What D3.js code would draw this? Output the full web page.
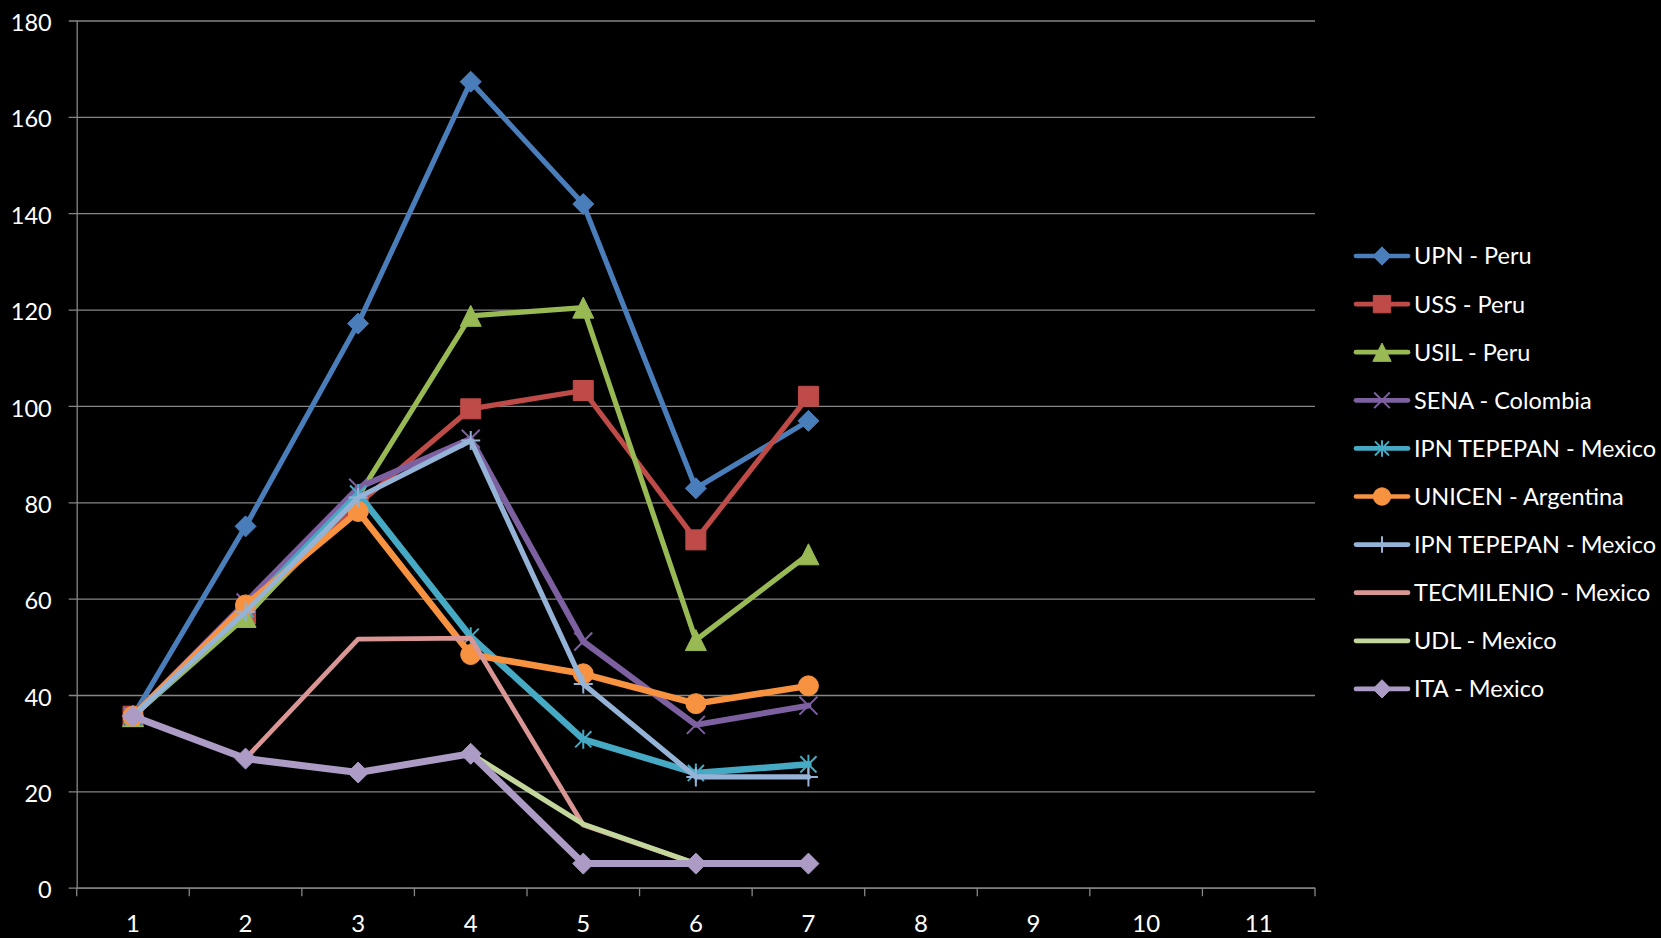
<!DOCTYPE html>
<html>
<head>
<meta charset="utf-8">
<script src="https://cdn.jsdelivr.net/npm/d3@7"></script>
<style>
  html, body { margin: 0; padding: 0; background: #000; }
  svg { display: block; }
  text { font-family: Lato, "Open Sans", sans-serif; fill: #ffffff; }
</style>
</head>
<body>
<svg id="chart" width="1661" height="938"></svg>
<script>
// Categories along the x axis
const categories = ["1", "2", "3", "4", "5", "6", "7", "8", "9", "10", "11"];
// Y axis tick values
const yTicks = [0, 20, 40, 60, 80, 100, 120, 140, 160, 180];

// Series names, in legend order
const seriesNames = [
  "UPN - Peru", "USS - Peru", "USIL - Peru", "SENA - Colombia",
  "IPN TEPEPAN - Mexico", "UNICEN - Argentina", "IPN TEPEPAN - Mexico",
  "TECMILENIO - Mexico", "UDL - Mexico", "ITA - Mexico"
];

// Series values for categories 1..7
const upnPeru        = [35.6, 75.0, 117.1, 167.3, 141.9, 82.9, 96.9];
const ussPeru        = [35.6, 56.8, 79.6, 99.4, 103.2, 72.2, 102.0];
const usilPeru       = [35.6, 56.2, 81.2, 118.7, 120.4, 51.4, 69.2];
const senaColombia   = [35.6, 59.2, 83.0, 93.2, 51.1, 33.8, 37.8];
const ipnTepepan     = [35.6, 57.8, 81.8, 52.1, 30.8, 23.8, 25.6];
const unicenArg      = [35.6, 58.7, 78.1, 48.4, 44.4, 38.2, 41.9];
const ipnTepepan2    = [35.6, 57.3, 81.0, 92.8, 42.3, 23.0, 23.0];
const tecmilenio     = [35.6, 26.8, 51.6, 51.8, 13.0, 5.0, 5.0];
const udlMexico      = [35.6, 26.8, 23.9, 27.8, 13.2, 5.0, 5.0];
const itaMexico      = [35.6, 26.8, 23.9, 27.8, 5.0, 5.0, 5.0];

const seriesValues = [upnPeru, ussPeru, usilPeru, senaColombia, ipnTepepan,
  unicenArg, ipnTepepan2, tecmilenio, udlMexico, itaMexico];

// Appearance of each series
const seriesColors = ["#4a7ebb", "#be4b48", "#98b954", "#7d60a0", "#46aac5",
  "#f69240", "#95b3d7", "#d99694", "#c3d69b", "#ab9bc5"];
const seriesMarkers = ["diamond", "square", "triangle", "x", "star",
  "circle", "plus", "none", "none", "diamond"];
const seriesWidths = [5.2, 5.2, 5.2, 6, 6.5, 6.5, 5.2, 4.8, 5.2, 7];

// Custom marker shapes (size = full width squared)
const markerTypes = {
  diamond: { draw(c, s) { const r = Math.sqrt(s) / 2; c.moveTo(0, -r); c.lineTo(r, 0); c.lineTo(0, r); c.lineTo(-r, 0); c.closePath(); } },
  square:  { draw(c, s) { const r = Math.sqrt(s) / 2; c.rect(-r, -r, 2 * r, 2 * r); } },
  triangle:{ draw(c, s) { const r = Math.sqrt(s) / 2; c.moveTo(0, -r); c.lineTo(r, r); c.lineTo(-r, r); c.closePath(); } },
  circle:  { draw(c, s) { const r = Math.sqrt(s) / 2; c.moveTo(r, 0); c.arc(0, 0, r, 0, 2 * Math.PI); } },
  x:       { draw(c, s) { const r = Math.sqrt(s) / 2; c.moveTo(-r, -r); c.lineTo(r, r); c.moveTo(-r, r); c.lineTo(r, -r); } },
  star:    { draw(c, s) { const r = Math.sqrt(s) / 2; const k = r * 0.85; c.moveTo(-k, -k); c.lineTo(k, k); c.moveTo(-k, k); c.lineTo(k, -k); c.moveTo(0, -r); c.lineTo(0, r); } },
  plus:    { draw(c, s) { const r = Math.sqrt(s) / 2; c.moveTo(0, -r); c.lineTo(0, r); c.moveTo(-r, 0); c.lineTo(r, 0); } }
};
const strokeOnly = new Set(["x", "star", "plus"]);
const markerSize = { diamond: 21, square: 20, triangle: 21, circle: 20, x: 18, star: 19, plus: 19 };

const svg = d3.select("#chart");
const W = 1661, H = 938;
svg.append("rect").attr("width", W).attr("height", H).attr("fill", "#000");

const plot = { left: 76.7, top: 20.5, right: 1315, bottom: 887.7 };

const x = d3.scaleBand().domain(categories).range([plot.left, plot.right]).padding(0);
const y = d3.scaleLinear().domain([0, 180]).range([plot.bottom, plot.top]);

const gridColor = "#868686";

// Y axis with gridlines
const yAxis = svg.append("g")
  .attr("transform", `translate(${plot.left},0)`)
  .call(d3.axisLeft(y).tickValues(yTicks).tickSize(-(plot.right - plot.left)).tickPadding(25));
yAxis.select(".domain").attr("stroke", gridColor).attr("stroke-width", 1.3)
  .attr("d", `M0.5,${plot.top}V${plot.bottom}`);
yAxis.selectAll(".tick line").attr("stroke", gridColor).attr("stroke-width", 1.3).attr("x1", -8);
yAxis.selectAll(".tick text").attr("font-size", 23.5).attr("dy", "0.43em").attr("fill", "#fff");

// X axis: labels at band centres, tick marks at band boundaries
const xAxis = svg.append("g")
  .attr("transform", `translate(0,${plot.bottom})`)
  .call(d3.axisBottom(x).tickSize(0).tickPadding(0));
xAxis.select(".domain").attr("stroke", gridColor).attr("stroke-width", 1.3)
  .attr("d", `M${plot.left},0.5H${plot.right}`);
xAxis.selectAll(".tick text").attr("font-size", 24).attr("y", 35.6).attr("dy", "0.36em").attr("fill", "#fff");
const boundaries = categories.map(c => x(c)).concat([x(categories[categories.length - 1]) + x.bandwidth()]);
xAxis.selectAll("line.boundary").data(boundaries).enter().append("line")
  .attr("class", "boundary")
  .attr("x1", d => d).attr("x2", d => d)
  .attr("y1", 0).attr("y2", 8.5)
  .attr("stroke", gridColor).attr("stroke-width", 1.3);

// Series lines and markers
const line = d3.line()
  .x((d, i) => x(categories[i]) + x.bandwidth() / 2)
  .y(d => y(d));

seriesValues.forEach((vals, si) => {
  const color = seriesColors[si];
  const g = svg.append("g").attr("class", "series");
  g.append("path")
    .attr("d", line(vals))
    .attr("fill", "none")
    .attr("stroke", color)
    .attr("stroke-width", seriesWidths[si])
    .attr("stroke-linejoin", "round")
    .attr("stroke-linecap", "round");
  const m = seriesMarkers[si];
  if (m !== "none") {
    const sz = markerSize[m];
    const sym = d3.symbol().type(markerTypes[m]).size(sz * sz);
    g.selectAll("path.marker").data(vals).enter().append("path")
      .attr("class", "marker")
      .attr("transform", (d, i) => `translate(${x(categories[i]) + x.bandwidth() / 2},${y(d)})`)
      .attr("d", sym)
      .attr("fill", strokeOnly.has(m) ? "none" : color)
      .attr("stroke", color)
      .attr("stroke-width", strokeOnly.has(m) ? 2 : 1);
  }
});

// Legend
const legend = svg.append("g").attr("transform", "translate(1354,256)");
const legendStep = 48.1;
seriesNames.forEach((name, si) => {
  const color = seriesColors[si];
  const g = legend.append("g").attr("transform", `translate(0,${si * legendStep})`);
  g.append("line")
    .attr("x1", 2).attr("x2", 54).attr("y1", 0).attr("y2", 0)
    .attr("stroke", color).attr("stroke-width", 4.7).attr("stroke-linecap", "round");
  const m = seriesMarkers[si];
  if (m !== "none") {
    const sz = markerSize[m] * 0.87;
    g.append("path")
      .attr("transform", "translate(28,0)")
      .attr("d", d3.symbol().type(markerTypes[m]).size(sz * sz))
      .attr("fill", strokeOnly.has(m) ? "none" : color)
      .attr("stroke", color)
      .attr("stroke-width", strokeOnly.has(m) ? 2 : 1);
  }
  g.append("text")
    .attr("x", 60).attr("y", 0).attr("dy", "0.36em")
    .attr("font-size", 23.5)
    .text(name);
});
</script>
</body>
</html>
